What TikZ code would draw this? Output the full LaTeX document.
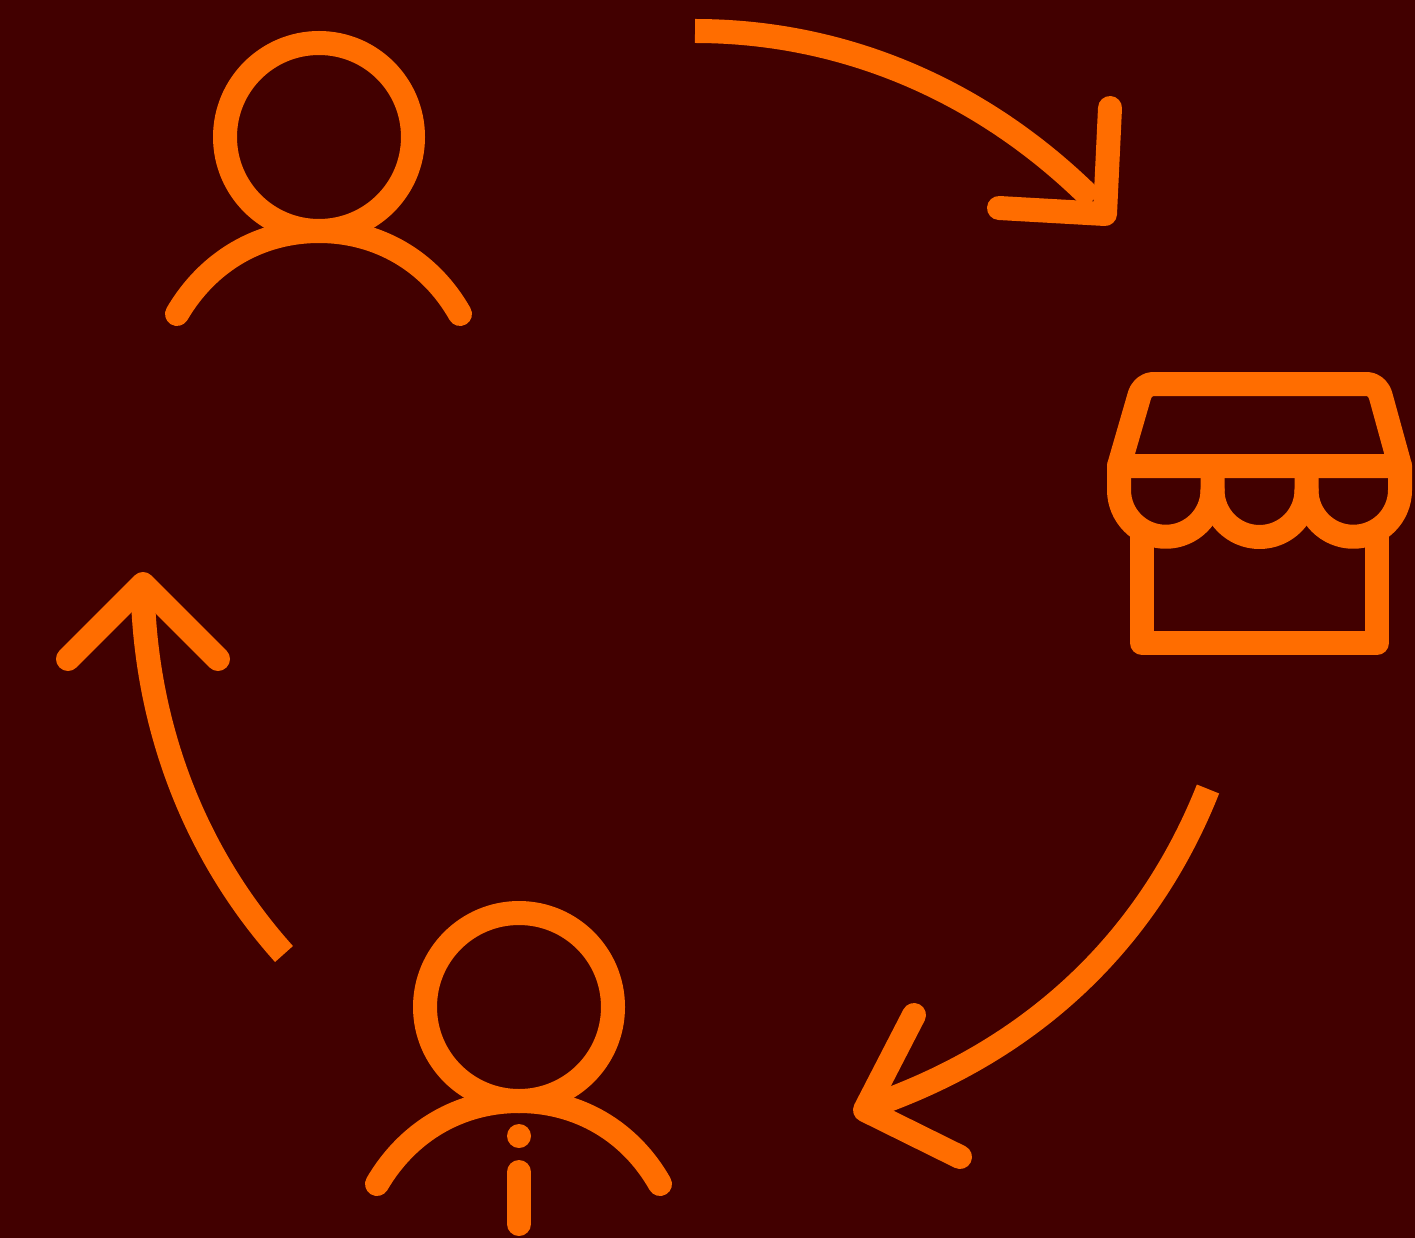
\documentclass[tikz,border=0pt]{standalone}
\usepackage{tikz}
\definecolor{bgmaroon}{HTML}{420000}
\definecolor{iconorange}{HTML}{FF6D00}
\tikzset{
  icon/.style={draw=iconorange, line width=24, line cap=round, line join=round},
  cyclearrow/.style={draw=iconorange, line width=24, line cap=butt},
  arrowhead/.style={icon},
}
\begin{document}
\begin{tikzpicture}[x=1pt,y=-1pt]
\fill[bgmaroon, use as bounding box] (0,0) rectangle (1415,1238);
% customer, top
\draw[icon] (319,137) circle (94);
\draw[icon] (177,314) .. controls (208,261) and (260,231) .. (319,231) .. controls (378,231) and (430,261) .. (460,314);
% store, right
\draw[icon] (1119,466) -- (1139,397) .. controls (1141,389) and (1146,384) .. (1154,384) -- (1366,384) .. controls (1374,384) and (1379,389) .. (1381,397) -- (1400,466) -- cycle;
\draw[icon] (1119,466) -- (1119,490) arc[start angle=180, end angle=0, radius=46.75] -- (1212.5,466);
\draw[icon] (1212.5,490) arc[start angle=180, end angle=0, radius=47] -- (1306.5,466);
\draw[icon] (1306.5,490) arc[start angle=180, end angle=0, radius=46.75] -- (1400,466);
\draw[icon] (1142,535) -- (1142,643) -- (1377,643) -- (1377,535);
% staff, bottom
\draw[icon] (519,1007) circle (94);
\draw[icon] (377,1184) .. controls (408,1131) and (460,1101) .. (519,1101) .. controls (578,1101) and (630,1131) .. (660,1184);
\fill[iconorange] (519,1136) circle (12);
\draw[icon] (519,1172) -- (519,1224);
% cycle arrows
\draw[cyclearrow] (695,31) .. controls (846,31) and (985,92) .. (1093,200);
\draw[arrowhead] (1110,108) -- (1105,214) -- (999,208);
\draw[cyclearrow] (1208,789) .. controls (1150,935) and (1040,1045) .. (880,1103);
\draw[arrowhead] (914,1015) -- (865,1110) -- (960,1157);
\draw[cyclearrow] (284,954) .. controls (195,855) and (148,730) .. (143,600);
\draw[arrowhead] (68,659) -- (143,584) -- (218,659);
\end{tikzpicture}
\end{document}
